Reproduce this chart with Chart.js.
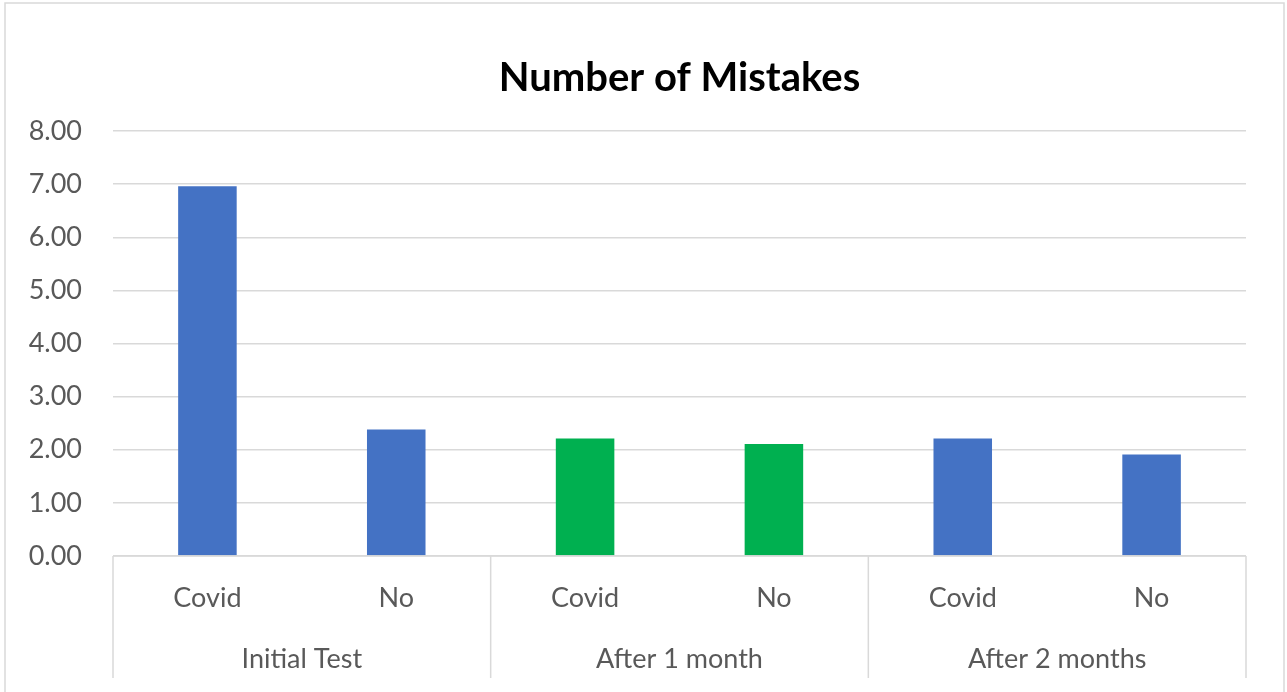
<!DOCTYPE html>
<html>
<head>
<meta charset="utf-8">
<script src="https://cdn.jsdelivr.net/npm/chart.js@4.4.0/dist/chart.umd.min.js"></script>
<style>
  html, body { margin: 0; padding: 0; background: #ffffff; }
  #wrap { position: absolute; left: 0; top: 0; width: 1287px; height: 692px; }
</style>
</head>
<body>
<div id="wrap"><canvas id="c" width="1287" height="692"></canvas></div>
<script>
const titleText = 'Number of Mistakes';
const groups = ['Initial Test', 'After 1 month', 'After 2 months'];
const categories = ['Covid', 'No', 'Covid', 'No', 'Covid', 'No'];
const values = [6.96, 2.38, 2.21, 2.11, 2.21, 1.91];
const barColors = ['#4472c4', '#4472c4', '#00b050', '#00b050', '#4472c4', '#4472c4'];
const yTicks = [0, 1, 2, 3, 4, 5, 6, 7, 8];

const FONT = 'Lato, "Open Sans", sans-serif';
const GRID = '#d9d9d9';
const TXT = '#595959';

const framePlugin = {
  id: 'frame',
  beforeDraw(chart) {
    const ctx = chart.ctx;
    ctx.save();
    ctx.fillStyle = '#ffffff';
    ctx.fillRect(0, 0, chart.width, chart.height);
    ctx.strokeStyle = GRID;
    ctx.lineWidth = 1.5;
    ctx.strokeRect(5, 3, 1279, 720);
    ctx.restore();
  },
  afterDraw(chart) {
    const ctx = chart.ctx;
    const xs = chart.scales.x;
    const area = chart.chartArea;
    const n = categories.length;
    const per = n / groups.length;
    ctx.save();
    ctx.strokeStyle = GRID;
    ctx.lineWidth = 1.5;
    ctx.beginPath();
    ctx.moveTo(area.left, area.bottom);
    ctx.lineTo(area.right, area.bottom);
    const bottom = 678;
    for (let g = 0; g <= groups.length; g++) {
      let px;
      if (g === 0) px = area.left;
      else if (g === groups.length) px = area.right;
      else px = (xs.getPixelForValue(g * per - 1) + xs.getPixelForValue(g * per)) / 2;
      ctx.moveTo(px, area.bottom);
      ctx.lineTo(px, bottom);
    }
    ctx.stroke();
    ctx.restore();
  }
};

new Chart(document.getElementById('c'), {
  type: 'bar',
  data: {
    labels: categories,
    datasets: [{
      data: values,
      backgroundColor: barColors,
      borderWidth: 0,
      barPercentage: 0.31,
      categoryPercentage: 1.0
    }]
  },
  options: {
    responsive: false,
    animation: false,
    devicePixelRatio: 1,
    layout: { padding: { left: 0, right: 41, top: 0, bottom: 0 } },
    plugins: {
      legend: { display: false },
      tooltip: { enabled: false },
      title: {
        display: true,
        fullSize: false,
        text: titleText,
        color: '#000000',
        font: { family: FONT, size: 40, weight: 'bold', lineHeight: 1.2 },
        padding: { top: 54, bottom: 29 }
      }
    },
    scales: {
      x: {
        type: 'category',
        offset: true,
        weight: 0,
        grid: { display: false },
        border: { display: false },
        ticks: { color: TXT, font: { family: FONT, size: 27, lineHeight: 1.2 }, padding: 18, maxRotation: 0, autoSkip: false },
        afterFit(s) { s.height = 61; }
      },
      x2: {
        type: 'category',
        labels: groups,
        position: 'bottom',
        offset: true,
        weight: 1,
        grid: { display: false },
        border: { display: false },
        ticks: { color: TXT, font: { family: FONT, size: 27, lineHeight: 1.2 }, padding: 18, maxRotation: 0, autoSkip: false },
        afterFit(s) { s.height = 75; }
      },
      y: {
        min: 0,
        max: 8,
        afterBuildTicks(s) { s.ticks = yTicks.map(v => ({ value: v })); },
        grid: { color: GRID, lineWidth: 1.5, drawTicks: false },
        border: { display: false },
        ticks: {
          color: TXT,
          font: { family: FONT, size: 27 },
          padding: 31,
          callback: v => Number(v).toFixed(2)
        },
        afterFit(s) { s.width = 113; }
      }
    }
  },
  plugins: [framePlugin]
});
</script>
</body>
</html>
